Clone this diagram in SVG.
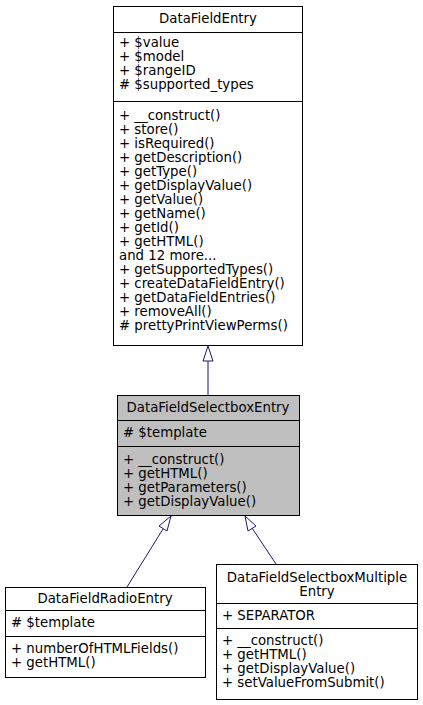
<svg xmlns="http://www.w3.org/2000/svg" width="423" height="705" viewBox="0 0 423 705">
<style>
text{font-family:"DejaVu Sans",sans-serif;font-size:13.3px;fill:#000}
.c{text-anchor:middle}
.box{fill:#fff;stroke:#000;stroke-width:1}
.g{fill:#bfbfbf;stroke:#000;stroke-width:1}
.d{stroke:#000;stroke-width:1;fill:none}
.e{stroke:#191970;stroke-width:1;fill:none}
.ah{fill:#fff;stroke:#191970;stroke-width:1}
</style>
<rect width="423" height="705" fill="#fff"/>
<g id="edges">
<path class="e" d="M208,395V361"/>
<polygon class="ah" points="208,346 203,361 213,361"/>
<path class="e" d="M127,587L163,529"/>
<polygon class="ah" points="171,516 159,526 167,531"/>
<path class="e" d="M276,564L252,528"/>
<polygon class="ah" points="245,516 248,531 256,526"/>
</g>
<g id="DataFieldEntry">
<rect class="box" x="113.5" y="6.5" width="189" height="339"/>
<path class="d" d="M113.5,32.5H302.5M113.5,101.5H302.5"/>
<text class="c" x="208" y="23">DataFieldEntry</text>
<text x="119" y="47">+ $value</text>
<text x="119" y="61">+ $model</text>
<text x="119" y="75">+ $rangeID</text>
<text x="119" y="89"># $supported_types</text>
<text x="119" y="120">+ __construct()</text>
<text x="119" y="134">+ store()</text>
<text x="119" y="148">+ isRequired()</text>
<text x="119" y="162">+ getDescription()</text>
<text x="119" y="176">+ getType()</text>
<text x="119" y="190">+ getDisplayValue()</text>
<text x="119" y="204">+ getValue()</text>
<text x="119" y="218">+ getName()</text>
<text x="119" y="232">+ getId()</text>
<text x="119" y="246">+ getHTML()</text>
<text x="119" y="260">and 12 more...</text>
<text x="119" y="274">+ getSupportedTypes()</text>
<text x="119" y="288">+ createDataFieldEntry()</text>
<text x="119" y="302">+ getDataFieldEntries()</text>
<text x="119" y="316">+ removeAll()</text>
<text x="119" y="330"># prettyPrintViewPerms()</text>
</g>
<g id="DataFieldSelectboxEntry">
<rect class="g" x="117.5" y="395.5" width="182" height="120"/>
<path class="d" d="M117.5,420.5H299.5M117.5,446.5H299.5"/>
<text class="c" x="208" y="412">DataFieldSelectboxEntry</text>
<text x="123" y="437"># $template</text>
<text x="123" y="464">+ __construct()</text>
<text x="123" y="478">+ getHTML()</text>
<text x="123" y="492">+ getParameters()</text>
<text x="123" y="506">+ getDisplayValue()</text>
</g>
<g id="DataFieldRadioEntry">
<rect class="box" x="5.5" y="587.5" width="200" height="90"/>
<path class="d" d="M5.5,610.5H205.5M5.5,636.5H205.5"/>
<text class="c" x="105" y="603">DataFieldRadioEntry</text>
<text x="11" y="627"># $template</text>
<text x="11" y="653">+ numberOfHTMLFields()</text>
<text x="11" y="667">+ getHTML()</text>
</g>
<g id="DataFieldSelectboxMultipleEntry">
<rect class="box" x="216.5" y="564.5" width="201" height="135"/>
<path class="d" d="M216.5,603.5H417.5M216.5,628.5H417.5"/>
<text class="c" x="317" y="582">DataFieldSelectboxMultiple</text>
<text class="c" x="317" y="596">Entry</text>
<text x="222" y="620">+ SEPARATOR</text>
<text x="222" y="645">+ __construct()</text>
<text x="222" y="659">+ getHTML()</text>
<text x="222" y="673">+ getDisplayValue()</text>
<text x="222" y="687">+ setValueFromSubmit()</text>
</g>
</svg>
